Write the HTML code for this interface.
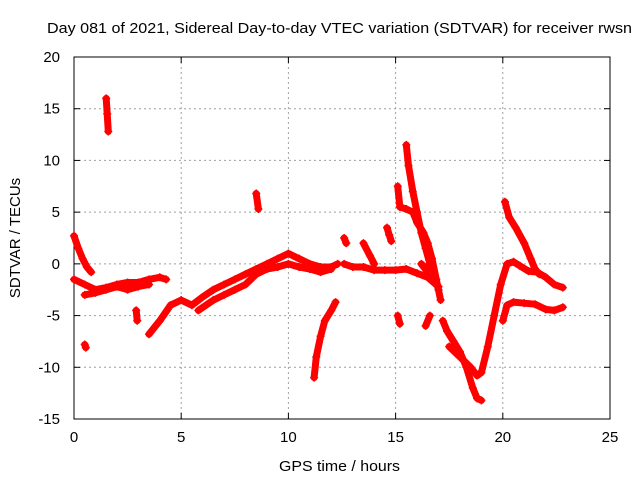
<!DOCTYPE html>
<html><head><meta charset="utf-8"><style>
html,body{margin:0;padding:0;background:#fff}
svg{display:block}
text{font-family:"Liberation Sans",sans-serif;font-size:15px;fill:#000}
</style></head><body>
<svg id="chart" width="640" height="480">
<rect width="640" height="480" fill="#fff"/>
<text x="47" y="33" textLength="585" lengthAdjust="spacingAndGlyphs">Day 081 of 2021, Sidereal Day-to-day VTEC variation (SDTVAR) for receiver rwsn</text>
<text x="279" y="471" textLength="121" lengthAdjust="spacingAndGlyphs">GPS time / hours</text>
<text transform="translate(20,238) rotate(-90)" text-anchor="middle">SDTVAR / TECUs</text>
<g id="grid"></g>
<g id="axes"></g>
<g id="series"></g>
</svg>
<script>
const xTicks=[0,5,10,15,20,25];
const yTicks=[-15,-10,-5,0,5,10,15,20];
const track1=[[0,2.7],[0.2,1.5],[0.4,0.5],[0.6,-0.3],[0.8,-0.8]];
const track2=[[0,-1.5],[0.5,-2],[1,-2.5],[1.5,-2.3],[2,-2],[2.5,-1.8],[3,-1.8],[3.5,-1.5],[4,-1.3],[4.3,-1.5]];
const track3=[[0.5,-3],[1,-2.8],[1.5,-2.5],[2,-2.2],[2.5,-2.5],[3,-2.2],[3.5,-2]];
const track4=[[1.5,16],[1.55,14.5],[1.6,12.8]];
const track5=[[0.5,-7.8],[0.55,-8.1]];
const track6=[[2.9,-4.5],[2.95,-5.5]];
const track7=[[3.5,-6.8],[4,-5.5],[4.5,-4],[5,-3.5],[5.5,-4],[6,-3.2],[6.5,-2.5],[7,-2],[7.5,-1.5],[8,-1],[8.5,-0.5],[9,0],[9.5,0.5],[10,1],[10.5,0.5],[11,0],[11.5,-0.3],[12,-0.3],[12.3,0]];
const track8=[[5.8,-4.5],[6.5,-3.5],[7,-3],[7.5,-2.5],[8,-2],[8.5,-1],[9,-0.5],[9.5,-0.3],[10,0],[10.5,-0.3],[11,-0.5],[11.5,-0.8],[12,-0.5]];
const track9=[[8.5,6.8],[8.6,5.3]];
const track10=[[11.2,-11],[11.3,-9],[11.5,-7],[11.7,-5.5],[12,-4.5],[12.2,-3.7]];
const track11=[[12.6,0],[13,-0.3],[13.5,-0.3],[14,-0.6],[14.5,-0.6],[15,-0.6],[15.5,-0.5],[16,-0.9],[16.5,-1.3],[17,-2.2]];
const track12=[[12.6,2.5],[12.7,2]];
const track13=[[13.5,2],[13.8,0.8],[14,0]];
const track14=[[14.6,3.5],[14.7,2.8],[14.8,2.2]];
const track15=[[15.1,7.5],[15.2,5.5],[15.5,5.3],[15.8,5],[16,4],[16.3,3],[16.5,2],[16.7,0.5],[16.9,-1.5],[17.1,-3.5]];
const track16=[[15.5,11.5],[15.6,9.5],[15.8,7],[16,5],[16.2,3],[16.4,1.5],[16.6,0],[16.8,-1],[17,-2.5]];
const track17=[[15.1,-5],[15.2,-5.8]];
const track18=[[16.7,-0.5],[16.5,-0.8],[16.2,0],[16.8,-1.2]];
const track19=[[17.2,-5.5],[17.4,-6.5],[17.7,-7.5],[18,-8.5],[18.3,-10],[18.6,-12],[18.8,-13],[19,-13.2]];
const track20=[[17.5,-8],[18,-9],[18.5,-10],[18.8,-10.8],[19,-10.5],[19.3,-8],[19.6,-5],[19.9,-2],[20.2,0],[20.5,0.2],[20.8,-0.2],[21.2,-0.7],[21.6,-0.8],[22,-1.3],[22.4,-2],[22.8,-2.3]];
const track21=[[20,-5.5],[20.2,-4],[20.5,-3.7],[21,-3.8],[21.5,-3.9],[22,-4.4],[22.4,-4.5],[22.8,-4.2]];
const track22=[[20.1,6],[20.3,4.5],[20.6,3.5],[21,2],[21.3,0.5],[21.5,-0.5],[21.7,-1]];
const track23=[[16.4,-6],[16.6,-5]];
const tracks=[track1,track2,track3,track4,track5,track6,track7,track8,track9,track10,track11,track12,track13,track14,track15,track16,track17,track18,track19,track20,track21,track22,track23];
const X0=74,X1=610,Y0=419,Y1=57;
const xs=v=>X0+(v-0)/(25-0)*(X1-X0);
const ys=v=>Y0-(v+15)/(20+15)*(Y0-Y1);
const NS="http://www.w3.org/2000/svg";
const grid=document.getElementById('grid'),axes=document.getElementById('axes'),ser=document.getElementById('series');
function mk(tag,attrs,parent){const e=document.createElementNS(NS,tag);for(const k in attrs)e.setAttribute(k,attrs[k]);parent.appendChild(e);return e;}
xTicks.forEach(t=>{const x=xs(t);
 if(t>0&&t<25){const g=mk('line',{x1:x,x2:x,y1:Y1,y2:Y0,stroke:'#a0a0a0','stroke-dasharray':'2,3'},grid);}
 mk('line',{x1:x,x2:x,y1:Y0,y2:Y0-6,stroke:'#000'},axes);mk('line',{x1:x,x2:x,y1:Y1,y2:Y1+6,stroke:'#000'},axes);
 const l=mk('text',{x:x,y:Y0+23,'text-anchor':'middle'},axes);l.textContent=t;
 
 });
yTicks.forEach(t=>{const y=ys(t);
 if(t>-15&&t<20){const g=mk('line',{x1:X0,x2:X1,y1:y,y2:y,stroke:'#a0a0a0','stroke-dasharray':'2,3'},grid);}
 mk('line',{x1:X0,x2:X0+6,y1:y,y2:y,stroke:'#000'},axes);mk('line',{x1:X1,x2:X1-6,y1:y,y2:y,stroke:'#000'},axes);
 const l=mk('text',{x:X0-14,y:y+5,'text-anchor':'end'},axes);l.textContent=t;
 
 });
mk('rect',{x:X0,y:Y1,width:X1-X0,height:Y0-Y1,fill:'none',stroke:'#000'},axes);
tracks.forEach((tr,i)=>{
 const g=mk('g',{},ser);
 
 
 const d=tr.map((p,j)=>(j?'L':'M')+xs(p[0]).toFixed(1)+','+ys(p[1]).toFixed(1)).join('');
 mk('path',{d:d,fill:'none',stroke:'#f00','stroke-width':7,'stroke-linejoin':'round','stroke-linecap':'round'},g);
 tr.forEach(p=>{const x=xs(p[0]),y=ys(p[1]);
  mk('path',{d:`M${x-4},${y}H${x+4}M${x},${y-4}V${y+4}`,stroke:'#f00','stroke-width':1.5},g);});
});
</script>
</body></html>
